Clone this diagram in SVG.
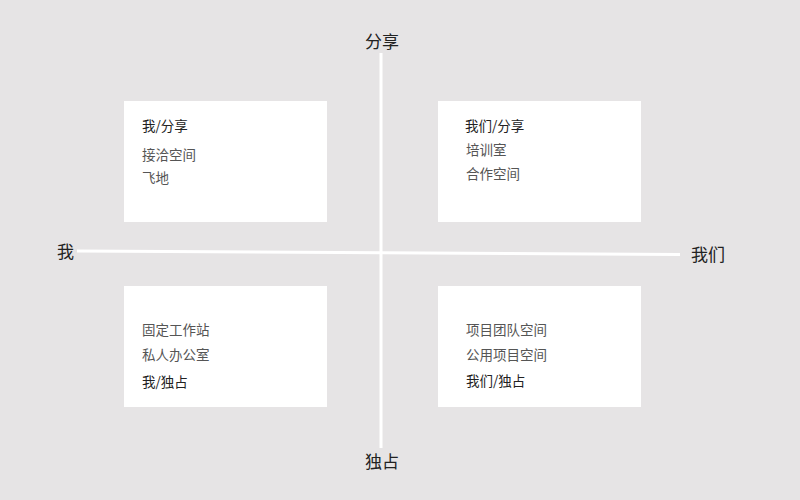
<svg xmlns="http://www.w3.org/2000/svg" width="800" height="500" viewBox="0 0 800 500">
<style>
text{font-family:"Noto Sans CJK SC","Noto Sans",sans-serif;}
.box{fill:#ffffff;}
.axis{stroke:#ffffff;stroke-width:3;fill:none;}
.al{font-size:17px;fill:#222;}
.t{font-size:13.5px;fill:#222;}
.i{font-size:13.5px;fill:#555;}
</style>
<rect width="800" height="500" fill="#e6e4e5"/>
<g id="connectors">
<line class="axis" x1="381" y1="53" x2="381" y2="448"/>
<line class="axis" x1="77" y1="251" x2="680" y2="254.5"/>
</g>
<g id="axis-top"><text class="al" x="382" y="48" text-anchor="middle">分享</text></g>
<g id="axis-bottom"><text class="al" x="382" y="468" text-anchor="middle">独占</text></g>
<g id="axis-left"><text class="al" x="57" y="258">我</text></g>
<g id="axis-right"><text class="al" x="691" y="261">我们</text></g>
<g id="tl">
<rect class="box" x="124" y="101" width="203" height="121"/>
<text class="t" x="142" y="131">我/分享</text>
<text class="i" x="142" y="160">接洽空间</text>
<text class="i" x="142" y="183">飞地</text>
</g>
<g id="tr">
<rect class="box" x="438" y="101" width="203" height="121"/>
<text class="t" x="465" y="131">我们/分享</text>
<text class="i" x="466" y="155">培训室</text>
<text class="i" x="466" y="179">合作空间</text>
</g>
<g id="bl">
<rect class="box" x="124" y="286" width="203" height="121"/>
<text class="i" x="142" y="335">固定工作站</text>
<text class="i" x="142" y="360">私人办公室</text>
<text class="t" x="142" y="387">我/独占</text>
</g>
<g id="br">
<rect class="box" x="438" y="286" width="203" height="121"/>
<text class="i" x="466" y="335">项目团队空间</text>
<text class="i" x="466" y="360">公用项目空间</text>
<text class="t" x="466" y="386">我们/独占</text>
</g>
</svg>
